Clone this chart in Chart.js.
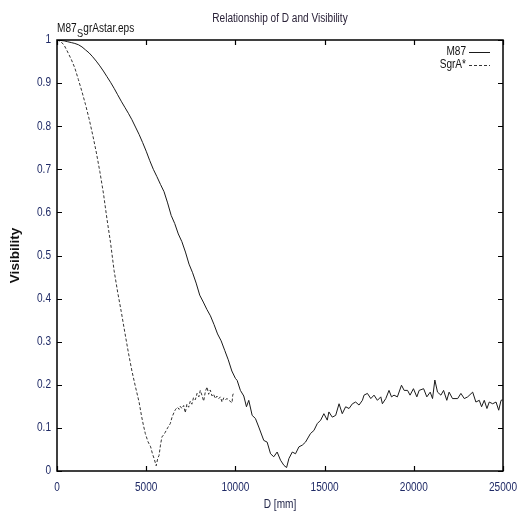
<!DOCTYPE html>
<html>
<head>
<meta charset="utf-8">
<script src="https://cdn.jsdelivr.net/npm/chart.js@4.4.1/dist/chart.umd.min.js"></script>
<style>
  html, body { margin: 0; padding: 0; background: #fff; }
  #wrap { width: 518px; height: 516px; }
</style>
</head>
<body>
<div id="wrap"><canvas id="chart" width="518" height="516"></canvas></div>
<script>
// D [mm] sample positions and visibility values
const m87D = [0,200,400,600,800,1000,1200,1400,1600,1800,2000,2200,2400,2600,2800,3000,3200,3400,3600,3800,
  4000,4200,4400,4600,4800,5000,5200,5400,5600,5800,6000,6200,6400,6600,6800,7000,7200,7400,7600,7800,
  8000,8200,8400,8600,8800,9000,9200,9400,9600,9800,10000,10100,10280,10470,10620,10750,10940,11120,11310,11590,
  11780,11970,12150,12340,12530,12720,12870,13000,13190,13370,13560,13750,13930,14210,14400,14590,14780,14960,15150,15240,
  15430,15620,15810,15990,16180,16370,16560,16740,16930,17120,17210,17400,17590,17770,17960,18150,18240,18430,18610,18750,
  18890,19080,19310,19460,19650,19790,19980,20170,20300,20550,20730,20920,21050,21180,21330,21520,21670,21850,21980,22170,
  22460,22640,22830,23020,23300,23480,23670,23800,23950,24100,24230,24420,24610,24760,24890,24980];
const m87V = [1.0,0.999,0.998,0.996,0.994,0.992,0.989,0.984,0.977,0.97,0.961,0.951,0.94,0.928,0.915,0.902,0.888,0.873,0.858,0.844,
  0.83,0.815,0.798,0.781,0.762,0.742,0.72,0.7,0.683,0.665,0.648,0.622,0.593,0.574,0.55,0.532,0.508,0.48,0.46,0.436,
  0.408,0.392,0.375,0.36,0.34,0.318,0.302,0.28,0.258,0.232,0.215,0.21,0.187,0.174,0.149,0.164,0.129,0.122,0.102,0.071,
  0.067,0.040,0.033,0.044,0.025,0.013,0.008,0.029,0.044,0.040,0.056,0.060,0.067,0.087,0.094,0.110,0.118,0.133,0.118,0.137,
  0.125,0.129,0.156,0.133,0.149,0.145,0.156,0.160,0.153,0.164,0.176,0.180,0.168,0.176,0.164,0.172,0.156,0.168,0.187,0.172,
  0.176,0.172,0.199,0.187,0.187,0.176,0.191,0.172,0.187,0.191,0.172,0.183,0.168,0.211,0.183,0.176,0.187,0.164,0.183,0.168,
  0.168,0.180,0.168,0.172,0.183,0.160,0.164,0.149,0.164,0.145,0.160,0.156,0.160,0.141,0.164,0.165];

const sgrD = [0,200,400,600,800,1000,1200,1400,1600,1800,2000,2200,2400,2600,2800,3000,3200,3400,3600,3800,
  4000,4200,4400,4600,4750,4850,4950,5100,5250,5350,5450,5560,5650,5720,5800,5880,6000,6070,6200,6350,
  6450,6550,6630,6750,6850,6910,7000,7100,7190,7280,7380,7470,7560,7650,7750,7850,7950,8030,8130,8220,
  8320,8410,8500,8590,8690,8780,8870,8970,9070,9160,9250,9350,9450,9530,9640,9740,9810,9850,9910];
const sgrV = [1.0,0.997,0.988,0.972,0.955,0.935,0.908,0.88,0.85,0.817,0.78,0.74,0.695,0.645,0.585,0.53,0.465,0.415,0.37,0.322,
  0.275,0.232,0.195,0.16,0.125,0.105,0.087,0.068,0.056,0.04,0.028,0.012,0.03,0.036,0.06,0.079,0.085,0.09,0.1,0.11,
  0.125,0.135,0.142,0.148,0.143,0.15,0.145,0.152,0.135,0.155,0.148,0.162,0.155,0.17,0.165,0.18,0.172,0.187,0.175,0.162,
  0.185,0.195,0.178,0.188,0.174,0.178,0.168,0.174,0.168,0.172,0.16,0.17,0.166,0.168,0.165,0.16,0.158,0.176,0.182];

const seriesNames = ['M87', 'SgrA*'];
const xTickLabels = ['0', '5000', '10000', '15000', '20000', '25000'];
const yTickLabels = ['0', '0.1', '0.2', '0.3', '0.4', '0.5', '0.6', '0.7', '0.8', '0.9', '1'];

const sans = "'Liberation Sans', Arial, sans-serif";
const tickColor = '#1f2a66';

// the original uses a narrow face, so squeeze normal text a bit
function narrowText(ctx, text, x, y, size, align, squeeze) {
  const k = squeeze || 0.84;
  ctx.save();
  ctx.font = size + 'px ' + sans;
  ctx.textAlign = align;
  ctx.translate(x, y);
  ctx.scale(k, 1);
  ctx.fillText(text, 0, 0);
  const w = ctx.measureText(text).width * k;
  ctx.restore();
  return w;
}

// frame with inward ticks on all four sides, tick labels, legend and header texts
const framePlugin = {
  id: 'frame',
  afterDraw(chart) {
    const { ctx, chartArea: a, scales: { x, y } } = chart;
    ctx.save();
    ctx.strokeStyle = '#000';
    ctx.lineWidth = 1.5;
    ctx.strokeRect(a.left, a.top, a.right - a.left, a.bottom - a.top);

    ctx.lineWidth = 1.2;
    ctx.beginPath();
    x.ticks.forEach(t => {
      const px = Math.round(x.getPixelForValue(t.value)) + 0.5;
      ctx.moveTo(px, a.bottom); ctx.lineTo(px, a.bottom - 5);
      ctx.moveTo(px, a.top); ctx.lineTo(px, a.top + 5);
    });
    y.ticks.forEach(t => {
      const py = Math.round(y.getPixelForValue(t.value)) + 0.5;
      ctx.moveTo(a.left, py); ctx.lineTo(a.left + 5, py);
      ctx.moveTo(a.right, py); ctx.lineTo(a.right - 5, py);
    });
    ctx.stroke();

    // tick labels
    ctx.fillStyle = tickColor;
    ctx.textBaseline = 'middle';
    x.ticks.forEach((t, i) => {
      narrowText(ctx, xTickLabels[i], x.getPixelForValue(t.value), a.bottom + 17, 12, 'center');
    });
    y.ticks.forEach((t, i) => {
      narrowText(ctx, yTickLabels[i], a.left - 6, y.getPixelForValue(t.value), 12, 'right');
    });

    // x axis title
    ctx.fillStyle = '#22264a';
    narrowText(ctx, 'D [mm]', (a.left + a.right) / 2, 505, 12, 'center');

    // legend: text right aligned, sample line after it
    chart.data.datasets.forEach((ds, i) => {
      const ly = a.top + 12 + i * 13;
      ctx.fillStyle = '#111';
      narrowText(ctx, ds.label, a.right - 37, ly, 12, 'right');
      ctx.strokeStyle = ds.borderColor;
      ctx.lineWidth = 1;
      ctx.setLineDash(ds.borderDash || []);
      ctx.beginPath();
      ctx.moveTo(a.right - 34, ly + 0.5);
      ctx.lineTo(a.right - 13, ly + 0.5);
      ctx.stroke();
    });
    ctx.setLineDash([]);

    // title
    ctx.textBaseline = 'alphabetic';
    ctx.fillStyle = '#2a2238';
    narrowText(ctx, 'Relationship of D and Visibility', (a.left + a.right) / 2, 22, 12, 'center');

    // file name with subscript S
    ctx.fillStyle = '#111';
    let fx = a.left;
    fx += narrowText(ctx, 'M87', fx, 32, 12, 'left') + 0.5;
    fx += narrowText(ctx, 'S', fx, 36.5, 11, 'left');
    narrowText(ctx, 'grAstar.eps', fx, 32, 12, 'left');
    ctx.restore();
  }
};

new Chart(document.getElementById('chart'), {
  type: 'line',
  data: {
    datasets: [
      {
        label: seriesNames[0],
        data: m87D.map((d, i) => ({ x: d, y: m87V[i] })),
        borderColor: '#1a1a1a',
        borderWidth: 1,
        pointRadius: 0,
        tension: 0
      },
      {
        label: seriesNames[1],
        data: sgrD.map((d, i) => ({ x: d, y: sgrV[i] })),
        borderColor: '#333',
        borderWidth: 1,
        borderDash: [3, 2],
        pointRadius: 0,
        tension: 0
      }
    ]
  },
  options: {
    responsive: false,
    animation: false,
    events: [],
    layout: { padding: { left: 0, top: 40, right: 15, bottom: 0 } },
    plugins: {
      legend: { display: false },
      title: { display: false },
      tooltip: { enabled: false }
    },
    scales: {
      x: {
        type: 'linear',
        min: 0,
        max: 25000,
        afterFit(scale) { scale.height = 45; },
        grid: { display: false },
        border: { display: false },
        ticks: { stepSize: 5000, display: false }
      },
      y: {
        min: 0,
        max: 1,
        afterFit(scale) { scale.width = 57; },
        grid: { display: false },
        border: { display: false },
        ticks: { stepSize: 0.1, display: false },
        title: {
          display: true,
          text: 'Visibility',
          color: '#111',
          font: { family: sans, size: 13.5, weight: 'bold' },
          padding: { top: 7, bottom: 0 }
        }
      }
    }
  },
  plugins: [framePlugin]
});
</script>
</body>
</html>
